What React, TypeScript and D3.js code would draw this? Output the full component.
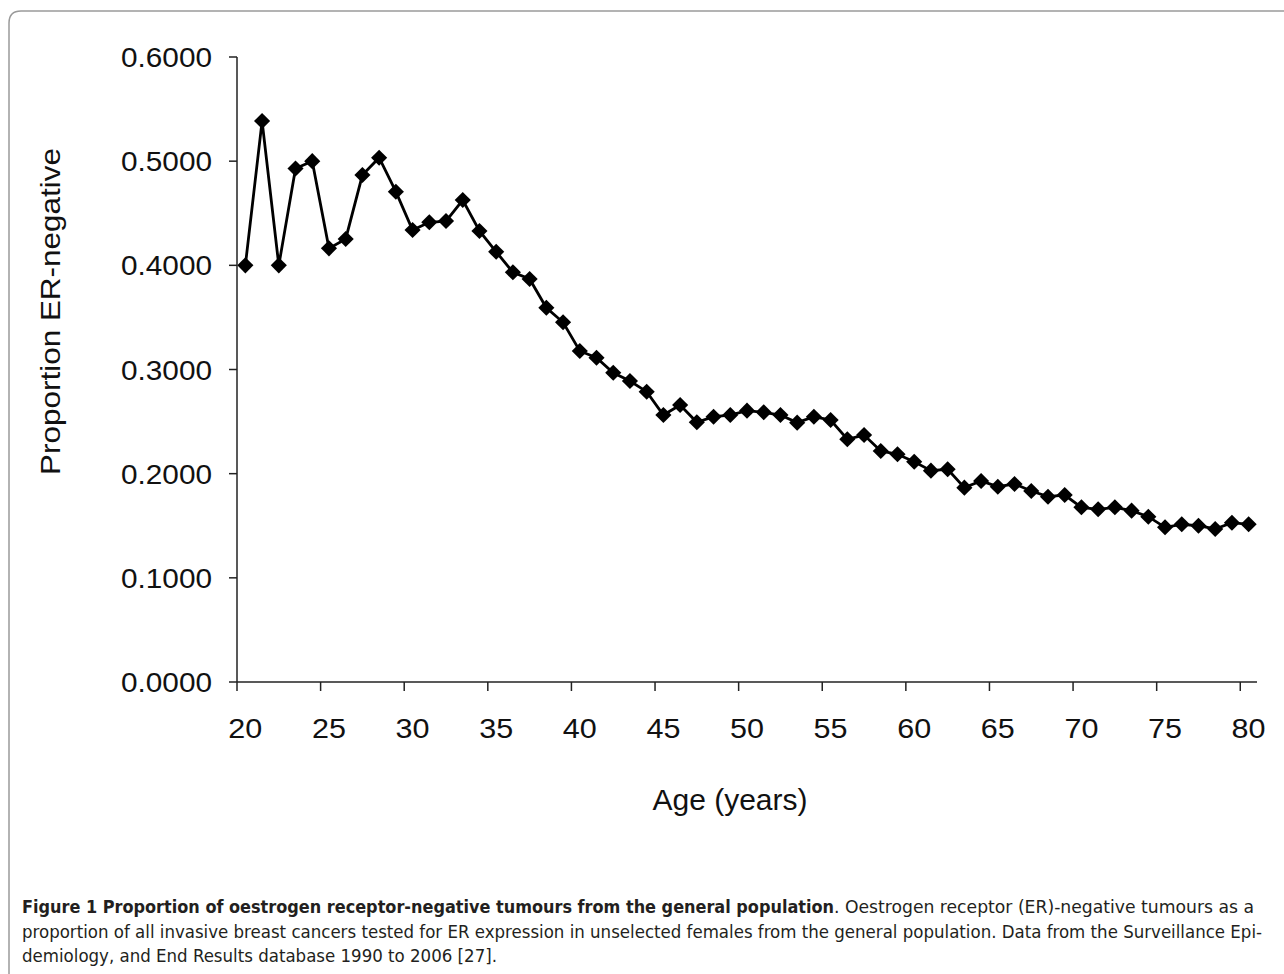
import React from "react";
import * as d3 from "d3";

// ages shown on the category axis (one point per year)
const ages: number[] = d3.range(20, 81);

// proportion of ER-negative tumours, age 20..80
const proportion: number[] = [
  0.4, 0.5385, 0.4, 0.493, 0.5, 0.4163, 0.4253, 0.4867, 0.5033, 0.4707,
  0.4339, 0.4413, 0.4425, 0.4627, 0.433, 0.413, 0.3933, 0.3869, 0.3593, 0.3453,
  0.3178, 0.3113, 0.2969, 0.289, 0.2787, 0.2563, 0.2659, 0.2493, 0.2547, 0.2563,
  0.2605, 0.2589, 0.2563, 0.249, 0.2547, 0.2515, 0.233, 0.2371, 0.2218, 0.2186,
  0.2115, 0.2029, 0.2042, 0.1866, 0.193, 0.1875, 0.1901, 0.1834, 0.1779, 0.1795,
  0.1677, 0.1658, 0.1677, 0.1645, 0.1587, 0.1485, 0.1514, 0.15, 0.1469, 0.1529,
  0.1514,
];

const xTickAges: number[] = [20, 25, 30, 35, 40, 45, 50, 55, 60, 65, 70, 75, 80];
const yTicks: number[] = [0, 0.1, 0.2, 0.3, 0.4, 0.5, 0.6];

const captionBold =
  "Figure 1 Proportion of oestrogen receptor-negative tumours from the general population";
const captionLine1 = ". Oestrogen receptor (ER)-negative tumours as a";
const captionLine2 =
  "proportion of all invasive breast cancers tested for ER expression in unselected females from the general population. Data from the Surveillance Epi-";
const captionLine3 = "demiology, and End Results database 1990 to 2006 [27].";

const W = 1284;
const H = 974;
const left = 237;
const right = 1257;
const top = 57;
const bottom = 682;

const chartFont = "'Liberation Sans', Arial, sans-serif";
const captionFont =
  "'Liberation Sans Narrow', 'DejaVu Sans Condensed', 'Open Sans', sans-serif";

const App: React.FC = () => {
  const x = d3
    .scaleBand<number>()
    .domain(ages)
    .range([left, right]);
  const y = d3.scaleLinear().domain([0, 0.6]).range([bottom, top]);
  const half = x.bandwidth() / 2;

  const data = ages.map((a, i) => ({ age: a, v: proportion[i] }));
  const line = d3
    .line<{ age: number; v: number }>()
    .x((d) => x(d.age)! + half)
    .y((d) => y(d.v));
  const diamond = d3.symbol(d3.symbolSquare, 130)();
  const fmt = d3.format(".4f");

  return (
    <svg
      width={W}
      height={H}
      style={{ position: "absolute", left: 0, top: 0, background: "#fff" }}
    >
      {/* frame */}
      <path
        d={`M9,${H + 5} L9,23 Q9,11 21,11 L${W + 5},11`}
        fill="none"
        stroke="#9a9a9a"
        strokeWidth={1.5}
      />

      {/* y axis */}
      <line x1={left} x2={left} y1={top} y2={bottom} stroke="#222" strokeWidth={1.5} />
      {yTicks.map((t) => (
        <g key={t}>
          <line x1={left - 8} x2={left} y1={y(t)} y2={y(t)} stroke="#222" strokeWidth={1.5} />
          <text
            x={212}
            y={y(t)}
            dy="0.36em"
            textAnchor="end"
            fontFamily={chartFont}
            fontSize={28}
            fill="#111"
            textLength={91}
            lengthAdjust="spacingAndGlyphs"
          >
            {fmt(t)}
          </text>
        </g>
      ))}

      {/* x axis */}
      <line x1={left} x2={right} y1={bottom} y2={bottom} stroke="#222" strokeWidth={1.5} />
      {xTickAges.map((a) => (
        <g key={a}>
          <line
            x1={x(a)}
            x2={x(a)}
            y1={bottom}
            y2={bottom + 9}
            stroke="#222"
            strokeWidth={1.5}
          />
          <text
            x={x(a)! + half - 17}
            y={738}
            fontFamily={chartFont}
            fontSize={28}
            fill="#111"
            textLength={34}
            lengthAdjust="spacingAndGlyphs"
          >
            {a}
          </text>
        </g>
      ))}

      {/* axis titles */}
      <text
        x={730}
        y={810}
        textAnchor="middle"
        fontFamily={chartFont}
        fontSize={30}
        fill="#111"
      >
        Age (years)
      </text>
      <text
        transform={`translate(60,475) rotate(-90)`}
        fontFamily={chartFont}
        fontSize={28}
        fill="#111"
        textLength={327}
        lengthAdjust="spacingAndGlyphs"
      >
        Proportion ER-negative
      </text>

      {/* series */}
      <path d={line(data)!} fill="none" stroke="#000" strokeWidth={2.8} />
      {data.map((d) => (
        <path
          key={d.age}
          d={diamond!}
          transform={`translate(${x(d.age)! + half},${y(d.v)}) rotate(45)`}
          fill="#000"
        />
      ))}

      {/* caption */}
      <text
        x={22}
        y={913}
        fontFamily={captionFont}
        fontSize={17}
        fontWeight="bold"
        fill="#231f20"
        textLength={812}
        lengthAdjust="spacingAndGlyphs"
      >
        {captionBold}
      </text>
      <text
        x={834}
        y={913}
        fontFamily={captionFont}
        fontSize={17}
        fill="#231f20"
        textLength={420}
        lengthAdjust="spacingAndGlyphs"
      >
        {captionLine1}
      </text>
      <text
        x={22}
        y={938}
        fontFamily={captionFont}
        fontSize={17}
        fill="#231f20"
        textLength={1240}
        lengthAdjust="spacingAndGlyphs"
      >
        {captionLine2}
      </text>
      <text
        x={22}
        y={962}
        fontFamily={captionFont}
        fontSize={17}
        fill="#231f20"
        textLength={475}
        lengthAdjust="spacingAndGlyphs"
      >
        {captionLine3}
      </text>
    </svg>
  );
};

export default App;
